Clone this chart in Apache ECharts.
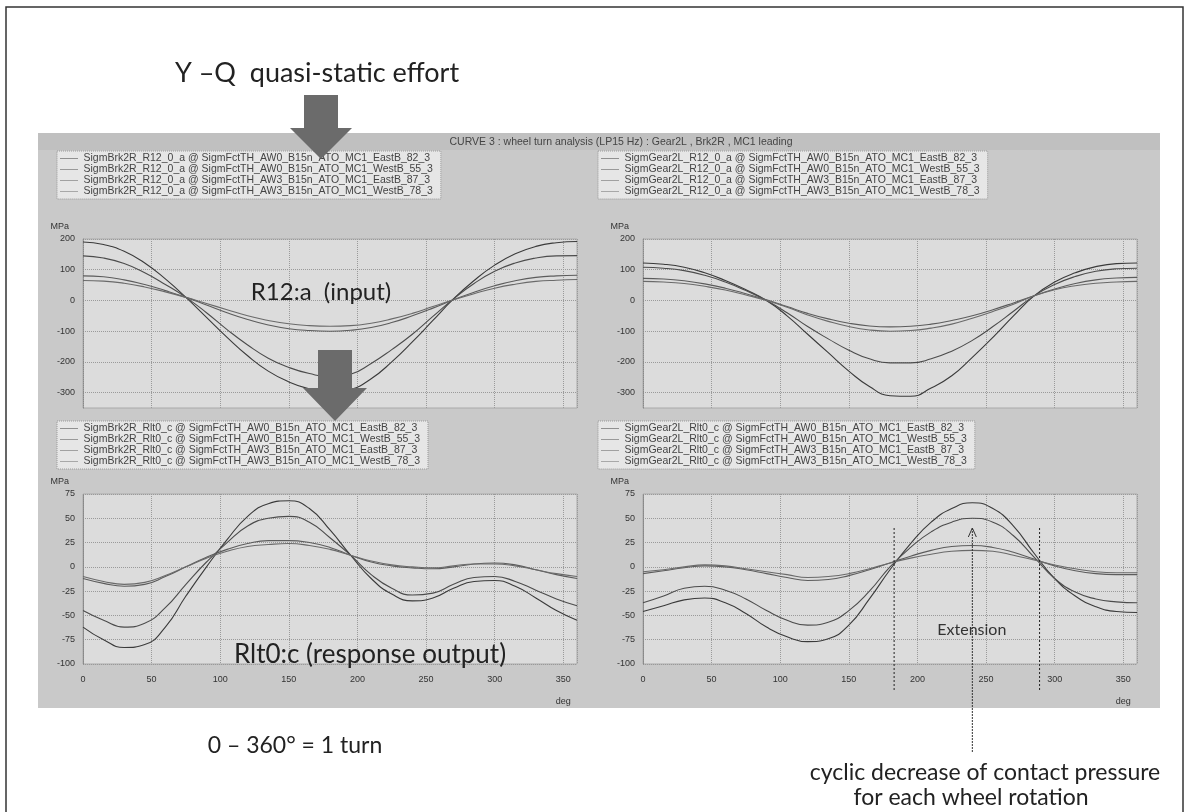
<!DOCTYPE html>
<html><head><meta charset="utf-8">
<script src="https://cdn.jsdelivr.net/npm/echarts@6/dist/echarts.min.js"></script>
<style>html,body{margin:0;padding:0;background:#fff}#c{width:1189px;height:812px}</style>
</head><body><div id="c"></div><script>
// ---- data ----
const degrees = [0,15,30,45,60,75,90,105,120,135,150,165,180,195,210,225,240,255,270,285,300,315,330,345,360];

// Top-left: R12:a (input) Brk2R
const tl1 = [190,182,160,122,70,10,-55,-120,-180,-230,-265,-288,-300,-290,-255,-200,-135,-65,5,65,115,152,176,188,192];
const tl2 = [145,138,120,90,52,10,-40,-95,-145,-188,-218,-238,-248,-240,-205,-160,-110,-52,5,55,95,122,138,145,146];
const tl3 = [80,77,67,52,32,10,-15,-40,-62,-80,-92,-98,-100,-97,-88,-72,-50,-25,2,27,48,64,75,80,82];
const tl4 = [65,63,56,44,28,10,-10,-30,-50,-65,-76,-82,-84,-82,-74,-60,-42,-20,2,22,40,53,62,66,68];
// Top-right: R12:a Gear2L
const tr1 = [122,118,108,90,65,35,0,-50,-110,-170,-230,-280,-310,-312,-285,-245,-185,-120,-50,15,60,90,110,120,122];
const tr2 = [108,105,97,82,60,32,0,-40,-85,-125,-162,-190,-203,-203,-190,-165,-130,-85,-35,15,52,78,95,103,105];
const tr3 = [72,70,64,54,40,22,2,-20,-42,-60,-74,-83,-86,-84,-77,-65,-50,-30,-8,15,37,55,67,73,75];
const tr4 = [62,60,55,46,34,18,0,-22,-47,-68,-85,-96,-100,-98,-90,-77,-58,-36,-12,15,35,48,56,60,62];
// Bottom-left: Rlt0:c Brk2R
const bl1 = [-62,-75,-83,-80,-62,-30,0,28,52,65,68,60,38,12,-12,-28,-35,-32,-22,-15,-14,-20,-32,-45,-55];
const bl2 = [-45,-55,-62,-58,-42,-18,5,25,42,50,52,46,30,12,-8,-22,-29,-27,-18,-11,-10,-15,-24,-33,-40];
const bl3 = [-12,-17,-20,-18,-10,0,10,18,24,27,27,25,20,12,5,1,-1,-2,0,3,4,2,-3,-8,-12];
const bl4 = [-10,-15,-18,-16,-9,0,9,16,21,23,24,22,18,12,6,2,0,-1,1,3,3,1,-3,-7,-10];
// Bottom-right: Rlt0:c Gear2L
const br1 = [-46,-40,-34,-32,-37,-48,-62,-72,-77,-74,-60,-33,-3,24,46,60,66,60,42,14,-12,-30,-41,-46,-47];
const br2 = [-37,-30,-22,-20,-24,-33,-45,-55,-60,-57,-45,-25,0,20,36,46,50,46,32,10,-12,-26,-33,-36,-37];
const br3 = [-7,-4,-1,1,0,-3,-7,-11,-14,-13,-9,-3,4,11,17,21,22,20,15,8,1,-4,-7,-8,-8];
const br4 = [-5,-3,0,2,1,-2,-5,-8,-11,-10,-7,-2,4,9,13,16,17,16,12,7,2,-2,-5,-6,-6];

const runSuffixes = ['AW0_B15n_ATO_MC1_EastB_82_3','AW0_B15n_ATO_MC1_WestB_55_3','AW3_B15n_ATO_MC1_EastB_87_3','AW3_B15n_ATO_MC1_WestB_78_3'];
const prefixes = ['SigmBrk2R_R12_0_a','SigmGear2L_R12_0_a','SigmBrk2R_Rlt0_c','SigmGear2L_Rlt0_c'];
const topTicks = [200,100,0,-100,-200,-300];
const bottomTicks = [75,50,25,0,-25,-50,-75,-100];
const xTicks = [0,50,100,150,200,250,300,350];
const extensionBounds = [183, 289];
const peakDeg = 240;

const titleText = 'CURVE 3 : wheel turn analysis (LP15 Hz) : Gear2L , Brk2R , MC1 leading';

// ---- chart ----
const chart = echarts.init(document.getElementById('c'), null, {renderer:'canvas'});
const lineColors = ['#3a3a3a','#4c4c4c','#5c5c5c','#6a6a6a'];
const panels = [[tl1,tl2,tl3,tl4],[tr1,tr2,tr3,tr4],[bl1,bl2,bl3,bl4],[br1,br2,br3,br4]];
const gridPos = [
  {left:83, top:239, width:494, height:169},
  {left:643, top:239, width:494, height:169},
  {left:83, top:494, width:494, height:170},
  {left:643, top:494, width:494, height:170}
];
const legendPos = [
  {left:57, top:151}, {left:598, top:151}, {left:57, top:421}, {left:598, top:421}
];
const labelFont = {fontFamily:'Liberation Sans, Arial', fontSize:9, color:'#333'};

const grids = gridPos.map(g => Object.assign({show:true, backgroundColor:'#dcdcdc', borderColor:'#aaa', borderWidth:1, containLabel:false}, g));
const xAxes = gridPos.map((g,i) => ({
  type:'value', gridIndex:i, min:0, max:360, interval:50,
  axisLine:{show:false}, axisTick:{show:false},
  axisLabel: i>=2 ? Object.assign({show:true, margin:11, formatter: v => (xTicks.indexOf(v)>=0 ? String(v) : '')}, labelFont) : {show:false},
  splitLine:{show:true, lineStyle:{color:'#9a9a9a', type:'dotted', width:1}}
}));
const yAxes = gridPos.map((g,i) => {
  const top = i<2;
  return {
    type:'value', gridIndex:i,
    min: top ? -350 : -100, max: top ? 200 : 75, interval: top ? 50 : 25,
    name:'MPa', nameLocation:'end', nameGap:8,
    nameTextStyle: Object.assign({align:'right', padding:[0,14,0,0]}, labelFont),
    axisLine:{show:true, lineStyle:{color:'#888', type:'dotted'}}, axisTick:{show:false},
    axisLabel: Object.assign({margin:8, formatter: v => ((top ? topTicks : bottomTicks).indexOf(v)>=0 ? String(v) : '')}, labelFont),
    splitLine:{show:true, lineStyle:{color: top ? ['transparent','#9a9a9a'] : '#9a9a9a', type:'dotted', width:1}}
  };
});
const series = [];
const legends = [];
panels.forEach((arrs, p) => {
  const names = runSuffixes.map(s => prefixes[p] + ' @ SigmFctTH_' + s);
  arrs.forEach((arr, k) => {
    series.push({
      type:'line', name:names[k], xAxisIndex:p, yAxisIndex:p,
      data: degrees.map((d, j) => [d, arr[j]]),
      smooth:true, symbol:'none', showSymbol:false,
      lineStyle:{color:lineColors[k], width:1.1}, itemStyle:{color:lineColors[k]},
      animation:false
    });
  });
  legends.push(Object.assign({
    orient:'vertical', data:names, itemGap:0, itemWidth:18, itemHeight:10,
    padding:[2,8,2,3], backgroundColor:'#e6e6e6', borderColor:'#999', borderWidth:1, borderType:'dotted',
    selectedMode:false,
    itemStyle:{opacity:0},
    lineStyle:{type:'dotted', width:1, opacity:1},
    textStyle:{fontFamily:'Liberation Sans, Arial', fontSize:10.5, color:'#444', lineHeight:10}
  }, legendPos[p]));
});

chart.setOption({
  animation:false,
  backgroundColor:'#ffffff',
  grid: grids, xAxis: xAxes, yAxis: yAxes, legend: legends, series: series
});

// ---- annotations ----
const px = (ai, v) => chart.convertToPixel({xAxisIndex: ai}, v);
const py = (ai, v) => chart.convertToPixel({yAxisIndex: ai}, v);
const annFont = 'Lato, "Open Sans", sans-serif';
const g = [];
// outer frame
g.push({type:'rect', z:-20, shape:{x:6, y:7, width:1177, height:815}, style:{fill:'#fff', stroke:'#333', lineWidth:1.5}});
// instrument panel
g.push({type:'rect', z:-10, shape:{x:38, y:133, width:1122, height:575}, style:{fill:'#c9c9c9'}});
g.push({type:'rect', z:-9, shape:{x:38, y:133, width:1122, height:17}, style:{fill:'#c0c0c0'}});
g.push({type:'text', z:50, x:621, y:142, style:{text:titleText, font:'10.5px "Liberation Sans", Arial', fill:'#444', align:'center', verticalAlign:'middle'}});
// deg labels
[2,3].forEach(ai => {
  g.push({type:'text', z:50, x:px(ai,350), y:py(ai,-100)+38, style:{text:'deg', font:'9px "Liberation Sans", Arial', fill:'#333', align:'center', verticalAlign:'middle'}});
});
// big arrows
g.push({type:'polygon', z:100, shape:{points:[[304,95],[338,95],[338,128],[352,128],[321,159],[290,128],[304,128]]}, style:{fill:'#6b6b6b'}});
g.push({type:'polygon', z:100, shape:{points:[[318,350],[352,350],[352,388],[367,388],[335,421],[303,388],[318,388]]}, style:{fill:'#6b6b6b'}});
// annotation texts
g.push({type:'text', z:100, x:317, y:73, style:{text:'Y \u2013Q  quasi-static effort', font:'27px '+annFont, fill:'#222', align:'center', verticalAlign:'middle'}});
g.push({type:'text', z:100, x:321, y:292, style:{text:'R12:a  (input)', font:'24px '+annFont, fill:'#222', align:'center', verticalAlign:'middle'}});
g.push({type:'text', z:100, x:370, y:655, style:{text:'Rlt0:c (response output)', font:'26px '+annFont, fill:'#222', align:'center', verticalAlign:'middle'}});
g.push({type:'text', z:100, x:295, y:746, style:{text:'0 \u2013 360\u00b0 = 1 turn', font:'23px '+annFont, fill:'#222', align:'center', verticalAlign:'middle'}});
g.push({type:'text', z:100, x:985, y:773, style:{text:'cyclic decrease of contact pressure', font:'23px '+annFont, fill:'#222', align:'center', verticalAlign:'middle'}});
g.push({type:'text', z:100, x:971, y:798, style:{text:'for each wheel rotation', font:'23px '+annFont, fill:'#222', align:'center', verticalAlign:'middle'}});
// extension markers on bottom-right
const topY = py(3, 40);
extensionBounds.forEach(d => {
  const x = px(3, d);
  g.push({type:'line', z:90, shape:{x1:x, y1:topY, x2:x, y2:692}, style:{stroke:'#222', lineWidth:1, lineDash:[2,2]}});
});
const ax = px(3, peakDeg);
g.push({type:'line', z:90, shape:{x1:ax, y1:topY, x2:ax, y2:752}, style:{stroke:'#333', lineWidth:1, lineDash:[2,1]}});
g.push({type:'polyline', z:90, shape:{points:[[ax-4, topY+9],[ax, topY],[ax+4, topY+9]]}, style:{stroke:'#333', lineWidth:1, fill:null}});
g.push({type:'text', z:100, x:(px(3,extensionBounds[0])+px(3,extensionBounds[1]))/2 + 5, y:630, style:{text:'Extension', font:'16px '+annFont, fill:'#333', align:'center', verticalAlign:'middle'}});

chart.setOption({graphic: g});
</script></body></html>
